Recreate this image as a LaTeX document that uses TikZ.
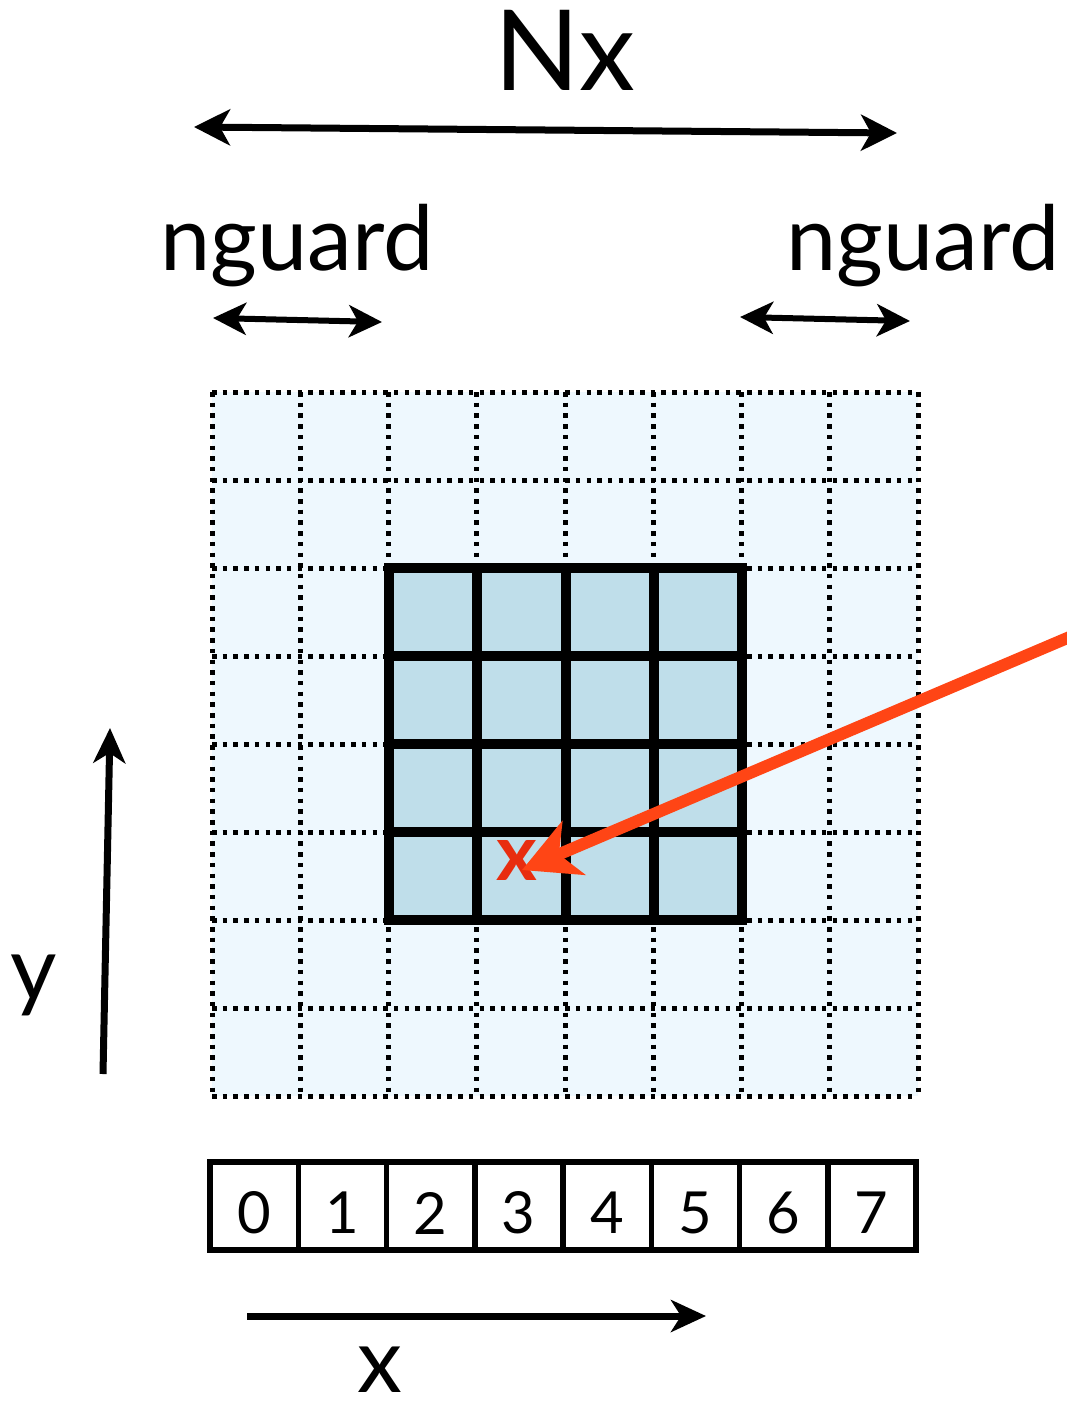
\documentclass[tikz,border=0pt]{standalone}
\usepackage{fontspec}
\setmainfont{Lato}
\usetikzlibrary{arrows.meta}
\definecolor{guardfill}{RGB}{238,248,254}
\definecolor{cellfill}{RGB}{191,222,234}
\definecolor{redarrow}{RGB}{255,69,21}
\definecolor{redx}{RGB}{232,45,15}
\tikzset{
  dotgrid/.style={line width=5pt, dash pattern=on 4.5pt off 6.2pt},
  solidgrid/.style={line width=10pt},
  dimarrow/.style={line width=7pt, {Stealth[length=36pt,width=36pt,inset=10pt]}-{Stealth[length=36pt,width=36pt,inset=10pt]}},
  smallarrow/.style={line width=6pt, {Stealth[length=33pt,width=32pt,inset=9pt]}-{Stealth[length=33pt,width=32pt,inset=9pt]}},
  axisarrow/.style={line width=7pt, -{Stealth[length=35pt,width=32pt,inset=10pt]}},
  bigtext/.style={font=\fontsize{112}{120}\selectfont, inner sep=0pt},
  midtext/.style={font=\fontsize{90}{96}\selectfont, inner sep=0pt},
  numtext/.style={font=\fontsize{58}{64}\selectfont, inner sep=0pt}
}
\begin{document}
\begin{tikzpicture}[x=1pt,y=-1pt]
\useasboundingbox (0,0) rectangle (1066,1414);
% top labels and arrows
\node[bigtext] (Nx) at (565,50) {Nx};
\coordinate (NxL) at (194,127);
\coordinate (NxR) at (897,133);
\draw[dimarrow] (NxL) -- (NxR);
\node[midtext] (ngL) at (297,246) {nguard};
\node[midtext] (ngR) at (923,246) {nguard};
\coordinate (gLa) at (213,318);
\coordinate (gLb) at (382,322);
\coordinate (gRa) at (740,317);
\coordinate (gRb) at (910,321);
\draw[smallarrow] (gLa) -- (gLb);
\draw[smallarrow] (gRa) -- (gRb);
% guard grid
\fill[guardfill] (212,392) rectangle (918,1096);
\foreach \i in {0,...,8} {
  \pgfmathsetmacro{\xx}{212+\i*88.25}
  \pgfmathsetmacro{\yy}{392+\i*88}
  \draw[dotgrid] (\xx,392) -- (\xx,1096);
  \draw[dotgrid] (212,\yy) -- (918,\yy);
}
% interior cells
\fill[cellfill] (389,568) rectangle (742,920);
\foreach \i in {0,...,4} {
  \pgfmathsetmacro{\xx}{389+\i*88.25}
  \pgfmathsetmacro{\yy}{568+\i*88}
  \draw[solidgrid] (\xx,563) -- (\xx,925);
  \draw[solidgrid] (384,\yy) -- (747,\yy);
}
% index row
\foreach \i in {0,...,7} {
  \pgfmathsetmacro{\xa}{210+\i*88.25}
  \pgfmathsetmacro{\xc}{254+\i*88.25}
  \draw[line width=5.5pt] (\xa,1162) rectangle ++(88.25,88);
  \node[numtext] (n\i) at (\xc,1213) {\i};
}
% axes
\coordinate (yA) at (103,1074);
\coordinate (yB) at (110,728);
\draw[axisarrow] (yA) -- (yB);
\node[midtext] (ylab) at (34,985) {y};
\coordinate (xA) at (247,1316);
\coordinate (xB) at (706,1316);
\draw[axisarrow] (xA) -- (xB);
\node[midtext] (xlab) at (380,1370) {x};
% red marker and arrow
\node[font=\fontsize{78}{80}\selectfont\bfseries, text=redx, inner sep=0pt] (mark) at (517,860) {x};
\coordinate (rA) at (1072,636);
\coordinate (rB) at (522,870);
\draw[redarrow, line width=12pt, -{Stealth[length=56pt,width=58pt,inset=16pt]}] (rA) -- (rB);
\end{tikzpicture}
\end{document}
